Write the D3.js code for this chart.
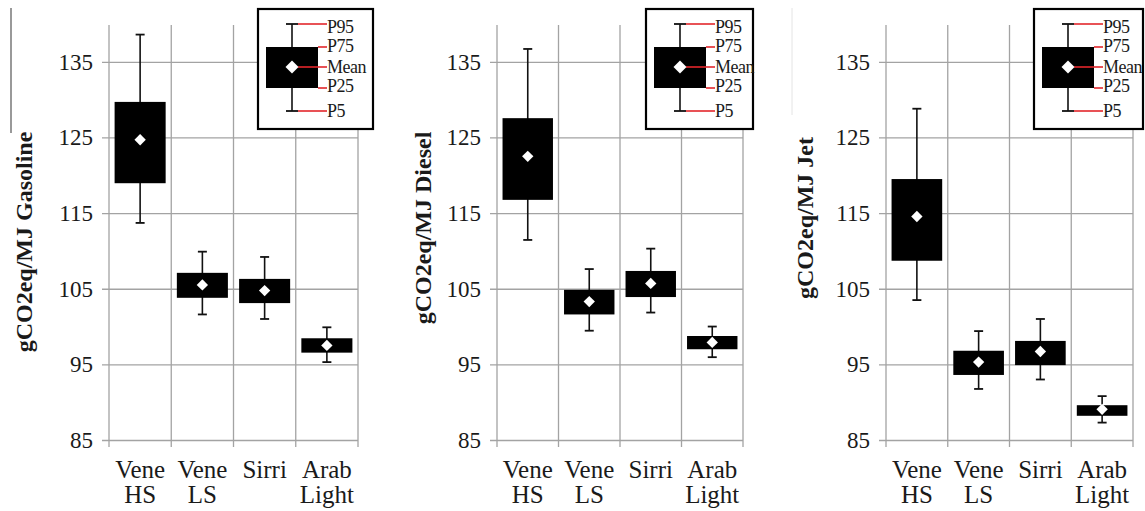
<!DOCTYPE html>
<meta charset='utf-8'>
<style>
  body { margin: 0; background: #fff; }
  text { font-family: 'Liberation Serif', 'Times New Roman', serif; fill: #1a1a1a; }
</style>
<div id='chart'></div>
<script src='https://d3js.org/d3.v7.min.js'></script>
<script>

  // crude oils (two-line labels) and fuels, one panel per fuel
  var crudes = [['Vene', 'HS'], ['Vene', 'LS'], ['Sirri'], ['Arab', 'Light']];
  var fuels = ['Gasoline', 'Diesel', 'Jet'];
  var yTicks = [85, 95, 105, 115, 125, 135];
  var legendLabels = ['P95', 'P75', 'Mean', 'P25', 'P5'];

  // gCO2eq/MJ, rows = Gasoline, Diesel, Jet ; columns = crudes
  var p95 = [
    [138.6, 109.9, 109.2, 99.9],
    [136.7, 107.6, 110.3, 100.0],
    [128.8, 99.4, 101.0, 90.8]
  ];
  var p75 = [
    [129.7, 107.1, 106.3, 98.45],
    [127.55, 104.85, 107.35, 98.75],
    [119.5, 96.8, 98.1, 89.6]
  ];
  var mean = [
    [124.7, 105.5, 104.75, 97.5],
    [122.5, 103.3, 105.7, 97.9],
    [114.55, 95.3, 96.7, 89.05]
  ];
  var p25 = [
    [118.95, 103.8, 103.1, 96.55],
    [116.75, 101.6, 103.9, 97.0],
    [108.7, 93.6, 94.9, 88.2]
  ];
  var p5 = [
    [113.7, 101.6, 101.0, 95.3],
    [111.45, 99.45, 101.85, 95.95],
    [103.5, 91.75, 93.0, 87.3]
  ];

  var W = 1145, H = 511;
  var plotTop = 24, plotBottom = 440;
  var panelLeft = [109, 497, 886],
      panelWidth = [249, 246, 247],
      titleX = [24, 423, 805],
      titleY = [242, 228, 218],
      legendX = [258, 646, 1034],
      legendW = [115, 107, 109];

  var svg = d3.select('#chart')
    .append('svg')
      .attr('width', W)
      .attr('height', H);

  // scan artifacts at the left of panels
  svg.append('line')
    .attr('x1', 11).attr('x2', 11).attr('y1', 8).attr('y2', 133)
    .style('stroke', '#555').style('stroke-width', 1.2);
  svg.append('line')
    .attr('x1', 792).attr('x2', 792).attr('y1', 8).attr('y2', 115)
    .style('stroke', '#e4e4e4').style('stroke-width', 1);

  var y = d3.scaleLinear()
    .domain([85, 140])
    .range([plotBottom, plotTop]);

  var diamond = d3.symbol().type(d3.symbolSquare).size(64);
  var bigDiamond = d3.symbol().type(d3.symbolSquare).size(84);

  fuels.forEach(function (fuel, f) {
    var left = panelLeft[f], w = panelWidth[f];
    var g = svg.append('g');

    var x = d3.scaleBand()
      .domain(d3.range(crudes.length))
      .range([left, left + w])
      .padding(0);

    // horizontal grid + tick labels
    var yAxis = g.append('g')
      .attr('transform', 'translate(' + (left - 7) + ',0)')
      .call(d3.axisLeft(y)
        .tickValues(yTicks)
        .tickSize(-(w + 7))
        .tickPadding(9)
        .tickFormat(d3.format('d')));
    yAxis.select('.domain').remove();
    yAxis.selectAll('line').style('stroke', '#a3a3a3').style('stroke-width', 1.3);
    yAxis.selectAll('text')
      .style('font-size', '23px')
      .style('font-family', "'Liberation Serif', serif")
      .attr('fill', '#1a1a1a');

    // vertical grid at band edges
    var edges = d3.range(crudes.length).map(function (i) { return x(i); })
      .concat([x(crudes.length - 1) + x.bandwidth()]);
    g.selectAll('.vgrid')
      .data(edges)
      .enter()
      .append('line')
        .attr('x1', function (d) { return d; })
        .attr('x2', function (d) { return d; })
        .attr('y1', y(140) + 1)
        .attr('y2', plotBottom + 7)
        .style('stroke', '#a3a3a3')
        .style('stroke-width', 1.3);

    // x labels
    var xl = g.selectAll('.xlab')
      .data(crudes)
      .enter()
      .append('text')
        .attr('text-anchor', 'middle')
        .style('font-size', '25px');
    xl.each(function (d, i) {
      var t = d3.select(this);
      d.forEach(function (s, k) {
        t.append('tspan')
          .attr('x', x(i) + x.bandwidth() / 2)
          .attr('y', 478 + k * 25)
          .text(s);
      });
    });

    // y title
    g.append('text')
      .attr('transform', 'translate(' + titleX[f] + ',' + titleY[f] + ') rotate(-90)')
      .attr('text-anchor', 'middle')
      .attr('dominant-baseline', 'central')
      .style('font-size', '24px')
      .style('font-weight', 'bold')
      .text('gCO2eq/MJ ' + fuel);

    // boxes
    var idx = d3.range(crudes.length);
    var bw = x.bandwidth() * 0.82;
    var cx = function (i) { return x(i) + x.bandwidth() / 2; };

    g.selectAll('.whisker')
      .data(idx)
      .enter()
      .append('line')
        .attr('x1', cx).attr('x2', cx)
        .attr('y1', function (i) { return y(p95[f][i]); })
        .attr('y2', function (i) { return y(p5[f][i]); })
        .style('stroke', '#111')
        .style('stroke-width', 1.6);
    [p95, p5].forEach(function (arr) {
      g.selectAll(null)
        .data(idx)
        .enter()
        .append('line')
          .attr('x1', function (i) { return cx(i) - 4.5; })
          .attr('x2', function (i) { return cx(i) + 4.5; })
          .attr('y1', function (i) { return y(arr[f][i]); })
          .attr('y2', function (i) { return y(arr[f][i]); })
          .style('stroke', '#111')
          .style('stroke-width', 1.8);
    });
    g.selectAll('.box')
      .data(idx)
      .enter()
      .append('rect')
        .attr('x', function (i) { return cx(i) - bw / 2; })
        .attr('width', bw)
        .attr('y', function (i) { return y(p75[f][i]); })
        .attr('height', function (i) { return y(p25[f][i]) - y(p75[f][i]); })
        .style('fill', '#000');
    g.selectAll('.mean')
      .data(idx)
      .enter()
      .append('path')
        .attr('d', diamond)
        .attr('transform', function (i) {
          return 'translate(' + cx(i) + ',' + y(mean[f][i]) + ') rotate(45)';
        })
        .style('fill', '#fff');

    // legend
    var lx = legendX[f], lt = 9, lh = 120;
    var lg = g.append('g');
    lg.append('rect')
      .attr('x', lx).attr('y', lt)
      .attr('width', legendW[f]).attr('height', lh)
      .style('fill', '#fff')
      .style('stroke', '#000')
      .style('stroke-width', 2.2);
    var bx = lx + 8, lbw = 52, wx = bx + lbw / 2;
    var ly = [lt + 15, lt + 38, lt + 58, lt + 79, lt + 102];
    var textY = [lt + 18, lt + 37, lt + 58, lt + 77, lt + 102];
    var labX = lx + 69;
    lg.append('line')
      .attr('x1', wx).attr('x2', wx).attr('y1', ly[0]).attr('y2', ly[4])
      .style('stroke', '#111').style('stroke-width', 1.6);
    [ly[0], ly[4]].forEach(function (yy) {
      lg.append('line')
        .attr('x1', wx - 6).attr('x2', wx + 6).attr('y1', yy).attr('y2', yy)
        .style('stroke', '#111').style('stroke-width', 1.8);
    });
    lg.append('rect')
      .attr('x', bx).attr('y', ly[1])
      .attr('width', lbw).attr('height', ly[3] - ly[1])
      .style('fill', '#000');
    var redStart = [wx + 6, bx + lbw, wx + 6, bx + lbw, wx + 6];
    legendLabels.forEach(function (s, k) {
      lg.append('line')
        .attr('x1', redStart[k]).attr('x2', labX)
        .attr('y1', ly[k]).attr('y2', ly[k])
        .style('stroke', '#e3262b')
        .style('stroke-width', 1.6);
    });
    lg.append('path')
      .attr('d', bigDiamond)
      .attr('transform', 'translate(' + wx + ',' + ly[2] + ') rotate(45)')
      .style('fill', '#fff');
    lg.selectAll('.ltext')
      .data(legendLabels)
      .enter()
      .append('text')
        .attr('x', labX)
        .attr('y', function (d, k) { return textY[k]; })
        .attr('dominant-baseline', 'central')
        .style('font-size', '18px')
        .style('letter-spacing', '-0.5px')
        .text(function (d) { return d; });
  });

</script>
